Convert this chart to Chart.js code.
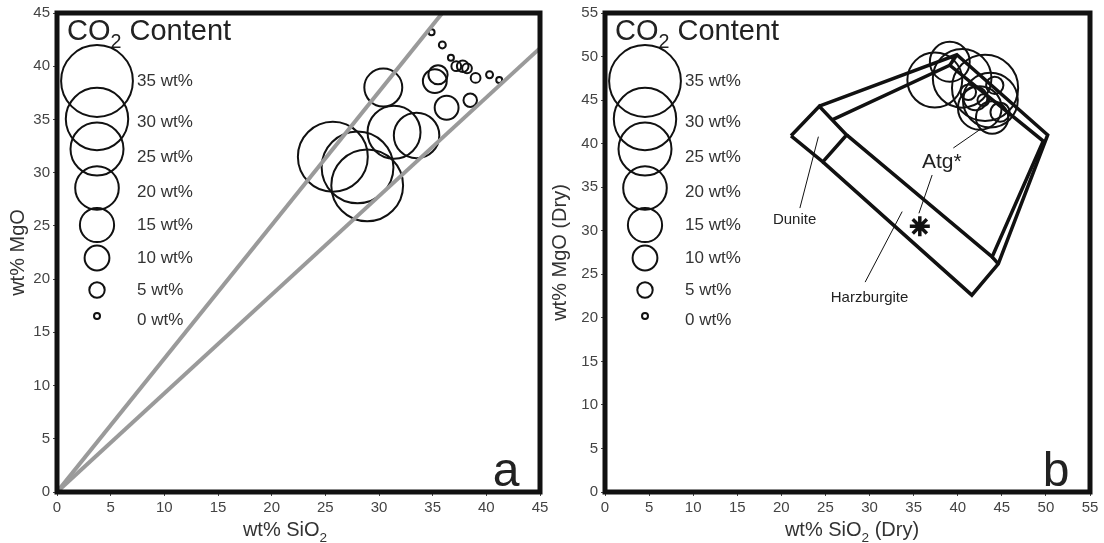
<!DOCTYPE html>
<html>
<head>
<meta charset="utf-8">
<script src="https://cdn.jsdelivr.net/npm/chart.js@4.4.1/dist/chart.umd.min.js"></script>
<style>
  body { margin: 0; background: #fff; }
  canvas { position: absolute; top: 0; }
  #chartA { left: 0; }
  #chartB { left: 552px; }
</style>
</head>
<body>
<canvas id="chartA" width="552" height="543"></canvas>
<canvas id="chartB" width="552" height="543"></canvas>
<script>
// ---- data: panel a (wt% SiO2, wt% MgO, wt% CO2) ----
const sioA = [30.4, 25.7, 28.0, 28.9, 31.4, 33.5, 36.3, 34.9, 35.9, 36.7, 37.2, 37.8, 38.2, 39.0, 40.3, 41.2, 35.5, 35.2, 38.5];
const mgoA = [38.0, 31.5, 30.5, 28.8, 33.8, 33.5, 36.1, 43.2, 42.0, 40.8, 40.0, 40.0, 39.8, 38.9, 39.2, 38.7, 39.2, 38.6, 36.8];
const co2A = [17, 34, 35, 35, 25, 21, 9.5, 0, 0.5, 0, 2, 3, 2, 2, 0.5, 0, 7, 9.5, 4];

// reference lines through the origin (panel a)
const refLine1 = { x: [0, 35.9], y: [0, 45] };
const refLine2 = { x: [0, 45], y: [0, 41.7] };

// ---- data: panel b (dry basis) ----
const sioB = [39.1, 37.4, 40.5, 43.1, 43.7, 42.5, 43.9, 42.0, 44.2, 42.9, 44.8, 41.2];
const mgoB = [49.4, 47.3, 47.5, 46.4, 45.0, 44.1, 43.0, 45.2, 46.7, 45.0, 43.6, 45.9];
const co2B = [18, 26, 28, 32, 26, 20, 14, 9.5, 6, 3, 7, 5];

// antigorite composition (asterisk)
const atgSio = [35.7];
const atgMgo = [30.5];

// field outlines (panel b)
const duniteX = [21.1, 24.3, 27.4, 24.7, 21.1];
const duniteY = [40.9, 44.3, 41.0, 37.9, 40.9];
const outerX = [24.7, 41.6, 44.6, 50.2, 39.9, 24.3];
const outerY = [37.9, 22.6, 26.2, 41.0, 50.2, 44.3];
const innerX = [27.4, 43.9, 49.7, 39.1, 25.7];
const innerY = [41.0, 27.0, 40.3, 49.0, 42.7];
const capX = [39.9, 39.1];
const capY = [50.2, 49.0];
const footX = [44.6, 43.9];
const footY = [26.2, 27.0];

// labels and leader lines (panel b)
const fieldLabels = ['Dunite', 'Harzburgite', 'Atg*'];
const labelX = [21.5, 30.0, 38.2];
const labelY = [31.2, 22.3, 37.9];
const leaders = [
  [[24.2, 40.8], [22.1, 32.6]],
  [[33.7, 32.2], [29.5, 24.1]],
  [[37.1, 36.4], [35.6, 32.0]],
  [[39.5, 39.5], [42.5, 41.6]]
];

// legend (CO2 content)
const co2Legend = [35, 30, 25, 20, 15, 10, 5, 0];
const legendCircleY = [68, 106, 136, 175, 212, 245, 277, 303];
const legendLabelY = [68, 109, 144, 179, 212, 245, 277, 307];

const FONT = '"Liberation Sans", Arial, sans-serif';

function radius(c) { return 3 + 0.94 * c; }

function pts(xs, ys) { return xs.map((v, i) => ({ x: v, y: ys[i] })); }
function bubbles(xs, ys, cs) { return xs.map((v, i) => ({ x: v, y: ys[i], r: radius(cs[i]) })); }

// draw text pieces, some as subscripts
function drawParts(ctx, parts, x, y, size, align) {
  let w = 0;
  parts.forEach(p => {
    ctx.font = (p[1] ? size * 0.68 : size) + 'px ' + FONT;
    w += ctx.measureText(p[0]).width;
  });
  let cx = align === 'center' ? x - w / 2 : x;
  ctx.textAlign = 'left';
  ctx.textBaseline = 'alphabetic';
  parts.forEach(p => {
    ctx.font = (p[1] ? size * 0.68 : size) + 'px ' + FONT;
    ctx.fillText(p[0], cx, y + (p[1] ? size * 0.28 : 0));
    cx += ctx.measureText(p[0]).width;
  });
}

const decor = {
  id: 'decor',
  afterDraw(chart, args, o) {
    const { ctx, chartArea: a, scales: { x, y } } = chart;
    ctx.save();
    ctx.strokeStyle = '#111';
    ctx.fillStyle = '#222';

    // legend
    drawParts(ctx, [['CO', 0], ['2', 1], [' Content', 0]], a.left + 10, a.top + 27, 29, 'left');
    ctx.lineWidth = 2;
    co2Legend.forEach((c, i) => {
      ctx.beginPath();
      ctx.arc(a.left + 40, a.top + legendCircleY[i], radius(c), 0, Math.PI * 2);
      ctx.stroke();
      ctx.font = '17px ' + FONT;
      ctx.fillStyle = '#333';
      ctx.textAlign = 'left';
      ctx.textBaseline = 'middle';
      ctx.fillText(c + ' wt%', a.left + 80, a.top + legendLabelY[i]);
    });

    // field labels
    if (o.fields) {
      ctx.lineWidth = 1;
      leaders.forEach(l => {
        ctx.beginPath();
        ctx.moveTo(x.getPixelForValue(l[0][0]), y.getPixelForValue(l[0][1]));
        ctx.lineTo(x.getPixelForValue(l[1][0]), y.getPixelForValue(l[1][1]));
        ctx.stroke();
      });
      ctx.fillStyle = '#222';
      ctx.textAlign = 'center';
      ctx.textBaseline = 'middle';
      fieldLabels.forEach((t, i) => {
        ctx.font = (t === 'Atg*' ? 21 : 15) + 'px ' + FONT;
        ctx.fillText(t, x.getPixelForValue(labelX[i]), y.getPixelForValue(labelY[i]));
      });
    }

    // panel letter
    ctx.fillStyle = '#222';
    ctx.font = '48px ' + FONT;
    ctx.textAlign = 'center';
    ctx.textBaseline = 'alphabetic';
    ctx.fillText(o.letter, a.right - 34, a.bottom - 6);

    // frame
    ctx.lineWidth = 5;
    ctx.strokeStyle = '#111';
    ctx.strokeRect(a.left, a.top, a.right - a.left, a.bottom - a.top);

    // axis titles
    ctx.fillStyle = '#333';
    drawParts(ctx, o.xTitle, o.xTitleX, 536, 20, 'center');
    ctx.translate(o.yTitleX, (a.top + a.bottom) / 2);
    ctx.rotate(-Math.PI / 2);
    drawParts(ctx, [[o.yTitle, 0]], 0, 0, 20, 'center');
    ctx.restore();
  }
};

function axis(max, fit) {
  return {
    type: 'linear', min: 0, max: max,
    border: { display: false },
    grid: { drawOnChartArea: false, drawTicks: true, tickLength: 4, color: '#444' },
    ticks: { stepSize: 5, color: '#444', font: { size: 15, family: FONT }, padding: 3, autoSkip: false, maxRotation: 0 },
    afterFit: fit
  };
}

function makeChart(id, datasets, max, yWidth, padRight, opts) {
  return new Chart(document.getElementById(id).getContext('2d'), {
    type: 'scatter',
    data: { datasets: datasets },
    options: {
      responsive: false,
      animation: false,
      layout: { autoPadding: false, padding: { top: 13, right: padRight, left: 0, bottom: 0 } },
      scales: {
        x: axis(max, s => { s.height = 51; }),
        y: axis(max, s => { s.width = yWidth; })
      },
      plugins: { legend: { display: false }, tooltip: { enabled: false }, decor: opts }
    },
    plugins: [decor]
  });
}

function lineSet(xs, ys, color, width) {
  return { type: 'scatter', data: pts(xs, ys), showLine: true, borderColor: color, borderWidth: width, pointRadius: 0, fill: false };
}
function bubbleSet(xs, ys, cs) {
  return { type: 'bubble', data: bubbles(xs, ys, cs), borderColor: '#111', borderWidth: 2, backgroundColor: 'rgba(0,0,0,0)' };
}

makeChart('chartA', [
  lineSet(refLine1.x, refLine1.y, '#9a9a9a', 4),
  lineSet(refLine2.x, refLine2.y, '#9a9a9a', 4),
  bubbleSet(sioA, mgoA, co2A)
], 45, 57, 12, {
  letter: 'a', fields: false,
  xTitle: [['wt% SiO', 0], ['2', 1]], xTitleX: 285,
  yTitle: 'wt% MgO', yTitleX: 24
});

makeChart('chartB', [
  lineSet(duniteX, duniteY, '#111', 3.5),
  lineSet(outerX, outerY, '#111', 3.5),
  lineSet(innerX, innerY, '#111', 3.5),
  lineSet(capX, capY, '#111', 3.5),
  lineSet(footX, footY, '#111', 3.5),
  bubbleSet(sioB, mgoB, co2B),
  { type: 'scatter', data: pts(atgSio, atgMgo), pointStyle: 'star', pointRadius: 10, borderColor: '#111', borderWidth: 3.5, backgroundColor: '#111' }
], 55, 53, 14, {
  letter: 'b', fields: true,
  xTitle: [['wt% SiO', 0], ['2', 1], [' (Dry)', 0]], xTitleX: 300,
  yTitle: 'wt% MgO (Dry)', yTitleX: 14
});
</script>
</body>
</html>
